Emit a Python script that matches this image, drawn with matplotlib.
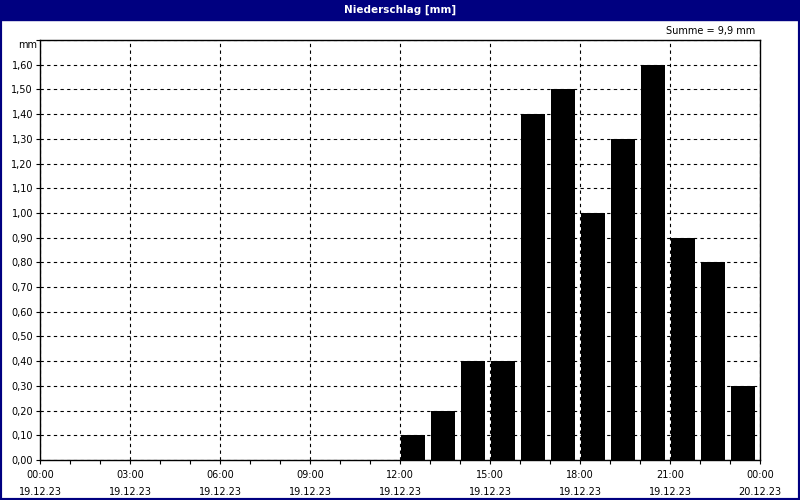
import matplotlib
matplotlib.use("Agg")
import matplotlib.pyplot as plt
from matplotlib.patches import Rectangle
from matplotlib.ticker import MultipleLocator, FuncFormatter

# hourly precipitation, 19.12.23
hours = [12, 13, 14, 15, 16, 17, 18, 19, 20, 21, 22, 23]
precip = [0.1, 0.2, 0.4, 0.4, 1.4, 1.5, 1.0, 1.3, 1.6, 0.9, 0.8, 0.3]
tick_hours = [0, 3, 6, 9, 12, 15, 18, 21, 24]
tick_labels = ["00:00\n19.12.23", "03:00\n19.12.23", "06:00\n19.12.23", "09:00\n19.12.23",
               "12:00\n19.12.23", "15:00\n19.12.23", "18:00\n19.12.23", "21:00\n19.12.23",
               "00:00\n20.12.23"]
title = "Niederschlag [mm]"
total = "Summe = 9,9 mm"

navy = "#000080"
plt.rcParams['font.family'] = ['DejaVu Sans']

fig = plt.figure(figsize=(8, 5), dpi=100)
fig.patch.set_facecolor("white")

# outer border and title bar
W, H = 800, 500
fig.add_artist(Rectangle((0, 0), 1, 1, transform=fig.transFigure, fill=False,
                         edgecolor=navy, linewidth=3))
fig.add_artist(Rectangle((0, 1 - 20 / H), 1, 20 / H, transform=fig.transFigure,
                         facecolor=navy, edgecolor=navy))
fig.text(0.5, 1 - 10 / H, title, color="white", fontsize=7.5, fontweight="bold",
         ha="center", va="center")
fig.text(755 / W, 1 - 31 / H, total, fontsize=7, ha="right", va="center")

ax = fig.add_axes([40 / W, 40 / H, 720 / W, 420 / H])
ax.bar([h + 0.04 for h in hours], precip, width=0.8, align="edge", color="black", zorder=3)

ax.set_xlim(0, 24)
ax.set_ylim(0, 1.7)
ax.set_xticks(tick_hours)
ax.set_xticklabels(tick_labels, fontsize=7, linespacing=1.9)
ax.xaxis.set_minor_locator(MultipleLocator(1))
ax.yaxis.set_major_locator(MultipleLocator(0.1))
ax.yaxis.set_major_formatter(FuncFormatter(lambda v, p: f"{v:.2f}".replace(".", ",") if v < 1.65 else ""))
ax.tick_params(axis="y", labelsize=7, length=3, width=0.8, pad=2, direction="out")
ax.tick_params(axis="x", which="major", length=3, width=0.8, pad=4, direction="out")
ax.tick_params(axis="x", which="minor", length=3, width=0.8, direction="out")
fig.text(37 / W, 1 - 45 / H, "mm", fontsize=7, ha="right", va="center")

ax.grid(True, which="major", color="black", linestyle=(0, (3, 3)), linewidth=0.8, zorder=1)
for s in ax.spines.values():
    s.set_linewidth(1)

fig.savefig("out.png", dpi=100)
